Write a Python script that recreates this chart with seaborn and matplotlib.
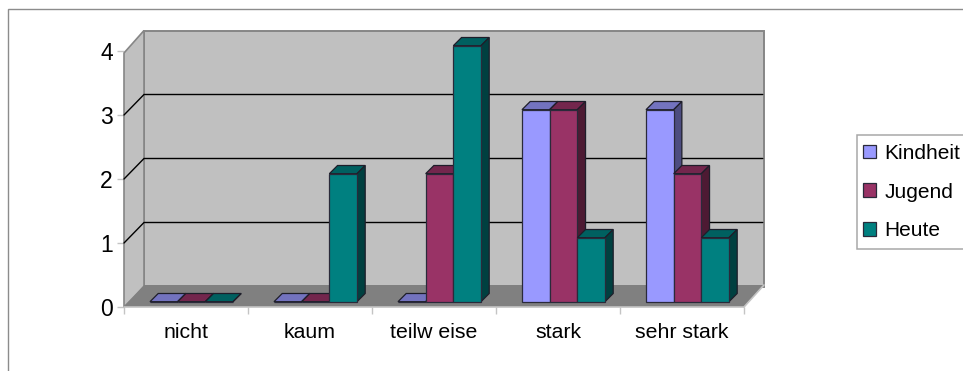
import matplotlib
matplotlib.use("Agg")
import matplotlib.pyplot as plt
from matplotlib.patches import Patch, Polygon, Rectangle
import pandas as pd
import seaborn as sns

categories = ["nicht", "kaum", "teilw eise", "stark", "sehr stark"]
kindheit = [0, 0, 0, 3, 3]
jugend = [0, 0, 2, 3, 2]
heute = [0, 2, 4, 1, 1]
series_names = ["Kindheit", "Jugend", "Heute"]
y_ticks = [0, 1, 2, 3, 4]

front_colors = ["#9999FF", "#993366", "#008080"]
top_colors = ["#7373BF", "#73264D", "#006060"]
side_colors = ["#4D4D80", "#4D1A33", "#004040"]

W, H = 963, 371
PX_X = 124.0   # pixels per category
PX_Y = 64.0    # pixels per value unit

sns.set_theme(style="white")
plt.rcParams["font.family"] = ["Liberation Sans", "DejaVu Sans"]

fig = plt.figure(figsize=(W / 100, H / 100), dpi=100, facecolor="white")
ax = fig.add_axes([124 / W, (H - 307) / H, 620 / W, 4 * PX_Y / H])
ax.patch.set_visible(False)

# outer chart frame, open on the right and at the bottom
fig.add_artist(Rectangle((7.7 / W, -0.1), 1.1, 0.1 + (H - 8.8) / H,
                         transform=fig.transFigure, fill=False,
                         ec="#8C8C8C", lw=1.0))

df = pd.DataFrame({
    "category": categories * 3,
    "value": kindheit + jugend + heute,
    "series": sum(([s] * len(categories) for s in series_names), []),
})
sns.barplot(data=df, x="category", y="value", hue="series", hue_order=series_names,
            palette=front_colors, saturation=1, width=83 / PX_X, gap=0,
            legend=False, ax=ax)

ax.set_xlim(-0.5, 4.5)
ax.set_ylim(0, 4)

# chart box depth and bar depth, expressed in data units
box_dx, box_dy = 20 / PX_X, 20.5 / PX_Y
floor_dy = 22 / PX_Y
side_top = 4 - 2 / PX_Y
bar_dx, bar_dy = 8.2 / PX_X, 8.2 / PX_Y
shift_x, shift_y = 5.5 / PX_X, 5.3 / PX_Y
GRAY = "#868686"
LIGHT = "#C4C4C4"

def face(points, fc, ec="none", lw=0, z=1):
    ax.add_patch(Polygon(points, closed=True, fc=fc, ec=ec, lw=lw, zorder=z,
                         clip_on=False, joinstyle="miter"))

x0, x1 = -0.5, 4.5
# back wall, side wall and floor
face([(x0 + box_dx, box_dy), (x1 + box_dx, box_dy), (x1 + box_dx, 4 + box_dy), (x0 + box_dx, 4 + box_dy)],
     "#C0C0C0", GRAY, 1.4, 1)
face([(x0, 0), (x0 + box_dx, box_dy), (x0 + box_dx, 4 + box_dy), (x0, side_top)], "#C0C0C0", GRAY, 1.2, 1)
face([(x0, 0), (x1, 0), (x1 + box_dx, floor_dy), (x0 + box_dx, floor_dy)], "#808080", "none", 0, 2)
ax.plot([x1, x1 + box_dx], [0, floor_dy], color=LIGHT, lw=1.2, zorder=2, clip_on=False)

# gridlines run along the back wall and down the side wall
for v in y_ticks[1:-1]:
    ax.plot([x0, x0 + box_dx, x1 + box_dx - 0.01], [v, v + box_dy, v + box_dy],
            color="black", lw=1.0, zorder=3, clip_on=False, solid_joinstyle="miter")

# extruded bars: each series sits above the one before it
for i, container in enumerate(ax.containers):
    for bar in container:
        left = bar.get_x() + shift_x
        w = bar.get_width()
        h = bar.get_height()
        right = left + w
        bottom = shift_y
        top = bottom + h
        z = 10 + 2 * i
        face([(left, top), (right, top), (right + bar_dx, top + bar_dy), (left + bar_dx, top + bar_dy)],
             top_colors[i], "#1E1E2A", 0.9, z)
        face([(right, bottom), (right + bar_dx, bottom + bar_dy), (right + bar_dx, top + bar_dy), (right, top)],
             side_colors[i], "#1E1E2A", 0.9, z)
        bar.set_xy((left, bottom))
        bar.set_edgecolor("#2A2A3A")
        bar.set_linewidth(0.9)
        bar.set_zorder(z + 1)
        bar.set_clip_on(False)

# axes: value ticks on the left, category ticks on the group boundaries
sns.despine(ax=ax, left=True, bottom=True, top=True, right=True)
ax.set_xlabel("")
ax.set_ylabel("")
ax.set_yticks(y_ticks)
ax.set_xticks(range(len(categories)), categories)
ax.set_xticks([x0 + k for k in range(len(categories) + 1)], minor=True)
ax.tick_params(axis="x", which="major", length=0, pad=11.5, labelsize=15.3, labelcolor="black")
ax.tick_params(axis="x", which="minor", length=5, width=1, color=LIGHT, bottom=True)
ax.tick_params(axis="y", left=True, length=5, width=1, color=LIGHT, pad=3, labelsize=16.5, labelcolor="black")
ax.plot([x0, x1], [0, 0], color=LIGHT, lw=1.2, zorder=2, clip_on=False)

# legend box runs off the right edge of the figure
fig.add_artist(Rectangle((856.5 / W, (H - 249) / H), 120 / W, 114 / H,
                         transform=fig.transFigure, fc="white", ec="#A8A8A8", lw=1.1))
handles = [Patch(fc=c, ec="#2A2A3A", lw=0.9, label=n) for c, n in zip(front_colors, series_names)]
fig.legend(handles=handles, loc="center left", bbox_to_anchor=(863 / W, (H - 192) / H),
           frameon=False, fontsize=15, borderpad=0, borderaxespad=0,
           handlelength=0.62, handleheight=0.62, handletextpad=0.4, labelspacing=0.95,
           labelcolor="black")

fig.savefig("out.png", dpi=100)
